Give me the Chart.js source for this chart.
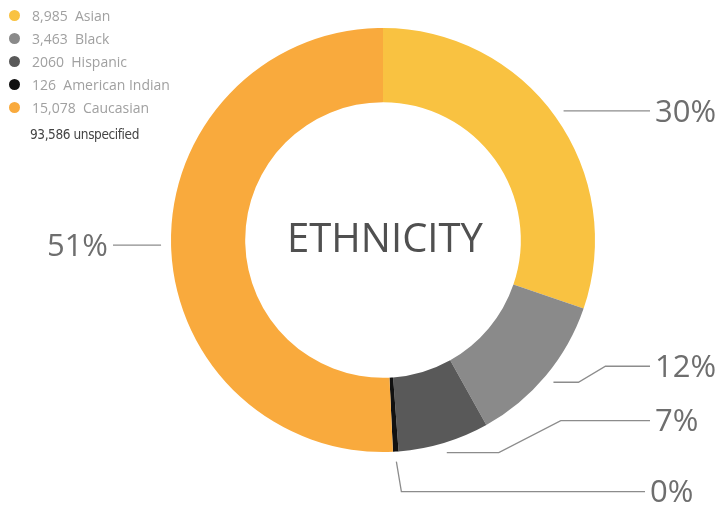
<!DOCTYPE html>
<html>
<head>
<meta charset="utf-8">
<script src="https://cdn.jsdelivr.net/npm/chart.js@4"></script>
<style>
    html, body { margin: 0; padding: 0; background: #fff; }
    #wrap { position: relative; width: 725px; height: 508px; }
    #legend { position: absolute; left: 9px; top: 4px; font-family: "Open Sans", sans-serif; }
    .leg-row { height: 23px; display: flex; align-items: center; font-size: 14px; color: #a0a0a0; white-space: pre; }
    .leg-dot { width: 11px; height: 11px; border-radius: 50%; margin-right: 12px; }
    .leg-note { margin: 7px 0 0 21px; font-family: "DejaVu Sans", sans-serif; font-stretch: condensed; font-size: 13.5px; color: #444; letter-spacing: -0.4px; }
</style>
</head>
<body>
<div id="wrap">
    <canvas id="chart" width="725" height="508"></canvas>
    <div id="legend"></div>
</div>
<script>
// Data
const categories = ['Asian', 'Black', 'Hispanic', 'American Indian', 'Caucasian'];
const counts = [8985, 3463, 2060, 126, 15078];
const countLabels = ['8,985', '3,463', '2060', '126', '15,078'];
const colors = ['#F9C241', '#8A8A8A', '#595959', '#111111', '#F9AA3D'];
const unspecifiedNote = '93,586 unspecified';
const centerTitle = 'ETHNICITY';

// Leader line shapes (relative bends from the anchor, end of line)
const leaders = [
    {knees: [], endX: 650},
    {knees: [[25, 0], [52, -16]], endX: 650},
    {knees: [[52, 0], [114, -32]], endX: 650},
    {knees: [[5, 30]], endX: 645},
    {knees: [], endX: 113}
];

function buildLegend() {
    const legend = document.getElementById('legend');
    let html = '';
    categories.forEach((name, i) => {
        html += `<div class="leg-row"><div class="leg-dot" style="background:${colors[i]}"></div>${countLabels[i]}  ${name}</div>`;
    });
    html += `<div class="leg-note">${unspecifiedNote}</div>`;
    legend.innerHTML = html;
}

const leaderPlugin = {
    id: 'leaders',
    afterDatasetsDraw(chart) {
        const ctx = chart.ctx;
        const meta = chart.getDatasetMeta(0);
        const data = chart.data.datasets[0].data;
        const total = data.reduce((a, b) => a + b, 0);

        ctx.save();
        meta.data.forEach((arc, i) => {
            const p = arc.getProps(['x', 'y', 'startAngle', 'endAngle', 'outerRadius'], true);
            const mid = (p.startAngle + p.endAngle) / 2;
            const r = p.outerRadius + 10;
            const ax = p.x + Math.cos(mid) * r;
            const ay = p.y + Math.sin(mid) * r;
            const cfg = leaders[i];

            const pts = [[ax, ay]];
            cfg.knees.forEach(k => pts.push([ax + k[0], ay + k[1]]));
            const last = pts[pts.length - 1];
            pts.push([cfg.endX, last[1]]);

            ctx.strokeStyle = '#8c8c8c';
            ctx.lineWidth = 1.3;
            ctx.beginPath();
            pts.forEach((pt, j) => j === 0 ? ctx.moveTo(pt[0], pt[1]) : ctx.lineTo(pt[0], pt[1]));
            ctx.stroke();

            const pct = Math.round(data[i] / total * 100) + '%';
            const right = cfg.endX > ax;
            ctx.fillStyle = '#6e6e6e';
            ctx.font = '400 31px "Open Sans"';
            ctx.textBaseline = 'middle';
            ctx.textAlign = right ? 'left' : 'right';
            ctx.fillText(pct, right ? cfg.endX + 5 : cfg.endX - 5, last[1] + 2);
        });

        // centre title
        ctx.fillStyle = '#505050';
        ctx.font = '400 40px "Open Sans"';
        ctx.textAlign = 'center';
        ctx.textBaseline = 'middle';
        ctx.fillText(centerTitle, meta.data[0].x + 2, meta.data[0].y + 1);
        ctx.restore();
    }
};

buildLegend();

new Chart(document.getElementById('chart').getContext('2d'), {
    type: 'doughnut',
    data: {
        labels: categories,
        datasets: [{
            data: counts,
            backgroundColor: colors,
            borderWidth: 0
        }]
    },
    options: {
        responsive: false,
        animation: false,
        cutout: '65%',
        layout: {
            padding: {left: 171, right: 130, top: 28, bottom: 56}
        },
        plugins: {
            legend: {display: false},
            tooltip: {enabled: false}
        }
    },
    plugins: [leaderPlugin]
});
</script>
</body>
</html>
